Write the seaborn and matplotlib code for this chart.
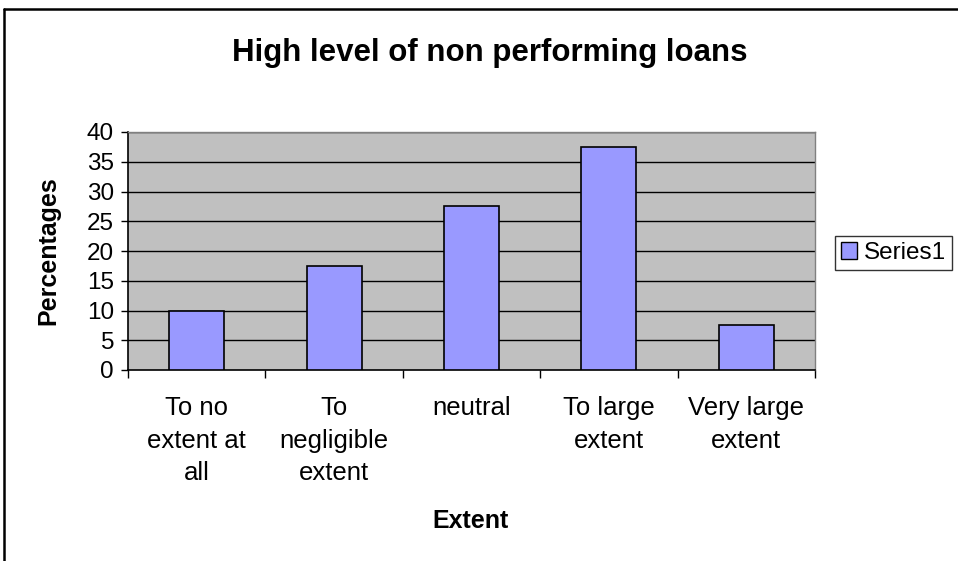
import matplotlib
matplotlib.use("Agg")
import matplotlib.pyplot as plt
import seaborn as sns
import pandas as pd
from matplotlib.lines import Line2D
from matplotlib.patches import Patch

categories = ["To no\nextent at\nall", "To\nnegligible\nextent", "neutral",
              "To large\nextent", "Very large\nextent"]
values = [10, 17.5, 27.5, 37.5, 7.5]
series_name = "Series1"
yticks = [0, 5, 10, 15, 20, 25, 30, 35, 40]

sns.set_theme(style="white")
plt.rcParams['font.family'] = ['Liberation Sans', 'DejaVu Sans']
plt.rcParams['text.color'] = 'black'
plt.rcParams['axes.labelcolor'] = 'black'
plt.rcParams['xtick.color'] = 'black'
plt.rcParams['ytick.color'] = 'black'

df = pd.DataFrame({"cat": categories, "val": values, "series": series_name})

fig = plt.figure(figsize=(9.58, 5.61), dpi=100)
W, H = 958, 561
L, R, T, B = 128, 815, 132, 370
ax = fig.add_axes([L / W, 1 - B / H, (R - L) / W, (B - T) / H])
ax.set_facecolor("#C0C0C0")

sns.barplot(data=df, x="cat", y="val", ax=ax, color="#9999FF", width=0.4,
            edgecolor="black", linewidth=1.2, saturation=1, zorder=3)

ax.set_ylim(0, 40)
ax.set_xlim(-0.5, len(categories) - 0.5)
ax.set_yticks(yticks)
ax.set_yticklabels([str(v) for v in yticks], fontsize=17.5)
for y in yticks[1:]:
    ax.axhline(y, color="black", linewidth=1.0, zorder=1)

# x ticks at category boundaries
ax.set_xticks([i - 0.5 for i in range(len(categories) + 1)], minor=False)
ax.set_xticklabels([])
ax.set_xticks(range(len(categories)), minor=True)
ax.set_xticklabels(categories, minor=True, fontsize=18.5, linespacing=1.45,
                   va="top")
ax.tick_params(axis="x", which="major", direction="out", length=6, width=1,
               color="black", bottom=True)
ax.tick_params(axis="x", which="minor", length=0, pad=19)
ax.tick_params(axis="y", direction="out", length=5, width=1, color="black",
               left=True, pad=5)

for side in ["top", "right"]:
    ax.spines[side].set_visible(True)
    ax.spines[side].set_color("#808080")
    ax.spines[side].set_linewidth(1.0)
for side in ["left", "bottom"]:
    ax.spines[side].set_color("black")
    ax.spines[side].set_linewidth(1.2)

ax.set_xlabel("Extent", fontsize=18, fontweight="bold", va="center")
ax.xaxis.set_label_coords((470 - L) / (R - L), (B - 521) / (B - T))
ax.set_ylabel("Percentages", fontsize=18, fontweight="bold", va="center")
ax.yaxis.set_label_coords((48 - L) / (R - L), (B - 251) / (B - T))

fig.text(490 / W, 1 - 53 / H, "High level of non performing loans",
         fontsize=22.5, fontweight="bold", ha="center", va="center")

# legend
leg = fig.legend(handles=[Patch(facecolor="#9999FF", edgecolor="black",
                                linewidth=1, label=series_name)],
                 loc="upper left", bbox_to_anchor=(835 / W, 1 - 236 / H),
                 fontsize=17.5, frameon=True, fancybox=False, borderpad=0.25,
                 handlelength=0.65, handleheight=0.65, handletextpad=0.3,
                 borderaxespad=0)
leg.get_frame().set_edgecolor("black")
leg.get_frame().set_linewidth(1.0)

# outer chart border (top and left visible)
fig.add_artist(Line2D([4 / W, 1.0], [1 - 9 / H, 1 - 9 / H], color="black",
                      linewidth=1.8, transform=fig.transFigure))
fig.add_artist(Line2D([4 / W, 4 / W], [0, 1 - 9 / H], color="black",
                      linewidth=1.8, transform=fig.transFigure))

fig.savefig("out.png", dpi=100, facecolor="white")
